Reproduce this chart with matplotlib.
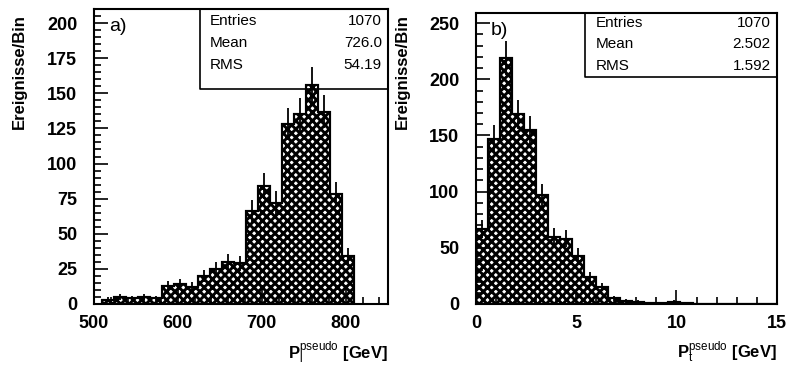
import numpy as np
import matplotlib
matplotlib.use('Agg')
import matplotlib.pyplot as plt
from matplotlib.ticker import MultipleLocator

plt.rcParams['font.family'] = ['Liberation Sans', 'DejaVu Sans']
plt.rcParams['mathtext.fontset'] = 'custom'
plt.rcParams['mathtext.rm'] = 'Liberation Sans'
plt.rcParams['mathtext.it'] = 'Liberation Sans'
plt.rcParams['hatch.linewidth'] = 2.1

# a) longitudinal pseudo momentum, 21 bins from 510 to 810 GeV
pl_edges = np.linspace(510, 810, 22)
pl_counts = [3, 5, 4, 5, 4, 13, 14, 12, 20, 25, 30, 29,
             66, 84, 72, 128, 135, 156, 137, 78, 34]
pl_stats = [('Entries', '1070'), ('Mean', '726.0'), ('RMS', '54.19')]

# b) transverse pseudo momentum, 25 bins from 0 to 15 GeV
pt_edges = np.linspace(0, 15, 26)
pt_counts = [67, 147, 219, 169, 155, 97, 60, 58, 43, 24, 15, 5, 3,
             2, 1, 1, 2, 1, 0, 0, 0, 0, 0, 0, 0]
pt_stats = [('Entries', '1070'), ('Mean', '2.502'), ('RMS', '1.592')]

W, H = 786, 368
fig = plt.figure(figsize=(W / 100, H / 100), dpi=100)
ax1 = fig.add_axes([94 / W, 1 - 304 / H, 293.7 / W, 295 / H])
ax2 = fig.add_axes([476 / W, 1 - 304 / H, 300.7 / W, 291 / H])


def draw_hist(ax, edges, counts, xlim, ylim, xmaj, xmin, ymaj, ymin,
              xlabel, tag, stats, box_left, box_bottom, rows, ylab_x):
    counts = np.array(counts, dtype=float)
    ax.stairs(counts, edges, fill=True, facecolor='white', edgecolor='black',
              hatch='xxxx', linewidth=1.5)
    ax.stairs(counts, edges, fill=False, color='black', linewidth=1.5)
    centers = 0.5 * (edges[:-1] + edges[1:])
    nz = counts > 0
    ax.errorbar(centers[nz], counts[nz], yerr=np.sqrt(counts[nz]),
                fmt='none', ecolor='black', elinewidth=1.3)
    ax.set_xlim(*xlim)
    ax.set_ylim(*ylim)
    ax.xaxis.set_major_locator(MultipleLocator(xmaj))
    ax.xaxis.set_minor_locator(MultipleLocator(xmin))
    ax.yaxis.set_major_locator(MultipleLocator(ymaj))
    ax.yaxis.set_minor_locator(MultipleLocator(ymin))
    ax.tick_params(which='both', direction='in', top=False, right=False,
                   labelsize=13, width=1.2)
    ax.tick_params(which='major', length=10)
    ax.tick_params(which='minor', length=5)
    ax.tick_params(axis='x', which='major', pad=8)
    ax.tick_params(axis='y', which='major', pad=12)
    for lab in ax.get_xticklabels() + ax.get_yticklabels():
        lab.set_fontweight('bold')
    for s in ax.spines.values():
        s.set_linewidth(1.5)
    fig.text(ylab_x / W, 1 - 14 / H, 'Ereignisse/Bin', rotation=90,
             fontsize=12, fontweight='bold', ha='center', va='top')
    ax.text(1.0, -0.165, xlabel, transform=ax.transAxes, fontsize=12,
            fontweight='bold', ha='right', va='center')
    ax.text(0.05, 0.94, tag, transform=ax.transAxes, fontsize=14,
            ha='left', va='center')
    # statistics box
    ax.plot([box_left, box_left, 1.0], [1.0, box_bottom, box_bottom],
            transform=ax.transAxes, color='black', linewidth=1.2,
            clip_on=False)
    for (k, v), yy in zip(stats, rows):
        ax.text(box_left + 0.035, yy, k, transform=ax.transAxes,
                fontsize=11, ha='left', va='center')
        ax.text(0.98, yy, v, transform=ax.transAxes,
                fontsize=11, ha='right', va='center')


draw_hist(ax1, pl_edges, pl_counts, (500, 850), (0, 210), 100, 20, 25, 5,
          r'P$_l^{\rm pseudo}$ [GeV]', 'a)', pl_stats, 0.36, 0.73,
          [0.959, 0.885, 0.810], 19)
draw_hist(ax2, pt_edges, pt_counts, (0, 15), (0, 259), 5, 1, 50, 10,
          r'P$_t^{\rm pseudo}$ [GeV]', 'b)', pt_stats, 0.363, 0.78,
          [0.965, 0.895, 0.818], 402)

fig.savefig('out.png', dpi=100)
